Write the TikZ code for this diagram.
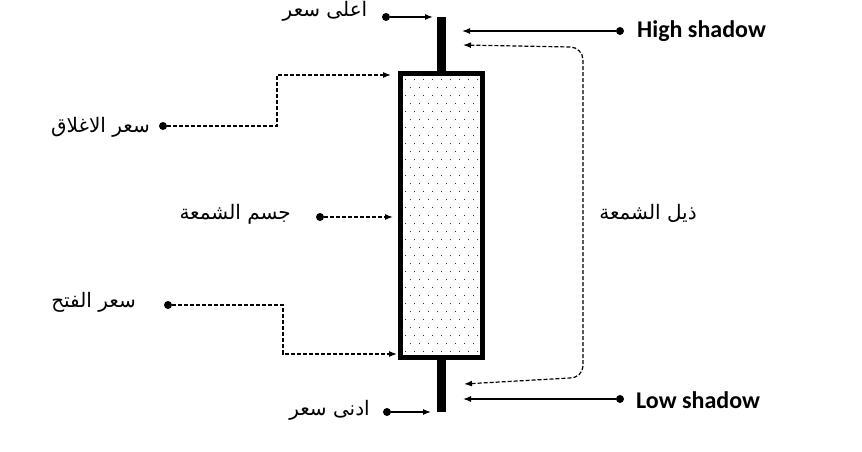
\documentclass[tikz,border=0pt]{standalone}
\usepackage{fontspec}
\setmainfont{Carlito}
\newfontfamily\arabicfont[Script=Arabic]{DejaVu Sans}
\TeXXeTstate=1
\usetikzlibrary{arrows.meta}

\tikzset{
    ar/.style={font=\arabicfont\fontsize{20}{24}\selectfont, inner sep=0pt},
    en/.style={font=\bfseries\fontsize{24}{28}\selectfont, inner sep=0pt, anchor=west},
    spot/.style={circle, fill, inner sep=0pt, minimum size=8pt},
    pointer/.style={-{Latex[length=8pt,width=6pt]}, line width=1.2pt},
    dpointer/.style={pointer, dash pattern=on 4pt off 2pt},
}

\begin{document}
\begin{tikzpicture}[x=1pt, y=-1pt]
    \useasboundingbox[fill=white] (0,0) rectangle (862,452);

    % wick and body
    \coordinate (wtop) at (441.5,17);
    \coordinate (wbot) at (441.5,412);
    \draw[line width=9.5pt] (wtop) -- (wbot);
    \node (body) [draw, line width=5pt, fill=white, minimum width=82pt, minimum height=284pt, inner sep=0pt] at (441.5,215.5) {};
    \begin{scope}
        \clip (403,76) rectangle (480,355);
        \foreach \r in {0,...,34} {
            \foreach \c in {0,...,9} {
                \pgfmathsetmacro{\xx}{405 + 9*\c + 4.5*mod(\r,2)}
                \fill[black!80] (\xx, 79+8*\r) rectangle ++(1.2,1.2);
            }
        }
    \end{scope}

    % left side labels
    \node (hiA) [ar] at (325,9) {\beginR أعلى سعر\endR};
    \node (hiS) [spot] at (386,17) {};
    \coordinate (hiT) at (433,17);
    \draw[pointer] (hiS) -- (hiT);

    \node (clA) [ar, anchor=east] at (150,127) {\beginR سعر الاغلاق\endR};
    \node (clS) [spot] at (163,126) {};
    \coordinate (clT) at (391,75);
    \draw[dpointer] (clS) -- (277,126) -- (277,75) -- (clT);

    \node (boA) [ar, anchor=east] at (291,214) {\beginR جسم الشمعة\endR};
    \node (boS) [spot] at (320,217) {};
    \coordinate (boT) at (393,217);
    \draw[dpointer] (boS) -- (boT);

    \node (opA) [ar, anchor=east] at (136,302) {\beginR سعر الفتح\endR};
    \node (opS) [spot] at (168,305) {};
    \coordinate (opT) at (397,354);
    \draw[dpointer] (opS) -- (283,305) -- (283,354) -- (opT);

    \node (loA) [ar, anchor=east] at (370,410) {\beginR ادنى سعر\endR};
    \node (loS) [spot] at (387,412) {};
    \coordinate (loT) at (431,412);
    \draw[pointer] (loS) -- (loT);

    % right side labels
    \node (hiE) [en] at (637,31) {High shadow};
    \node (hiD) [spot] at (620,31) {};
    \coordinate (hiU) at (462,31);
    \draw[pointer] (hiD) -- (hiU);

    \node (loE) [en] at (636,400) {Low shadow};
    \node (loD) [spot] at (620,399) {};
    \coordinate (loU) at (463,399);
    \draw[pointer] (loD) -- (loU);

    % tail bracket
    \node (tail) [ar] at (648,213) {\beginR ذيل الشمعة\endR};
    \coordinate (tT) at (463,45);
    \coordinate (tB) at (464,384);
    \draw[dpointer, {Latex[length=8pt,width=6pt]}-{Latex[length=8pt,width=6pt]}]
        (tT) -- (570,47) to[out=0, in=90] (583,60) -- (583,366)
        to[out=-90, in=0] (570,378) -- (tB);
\end{tikzpicture}
\end{document}
